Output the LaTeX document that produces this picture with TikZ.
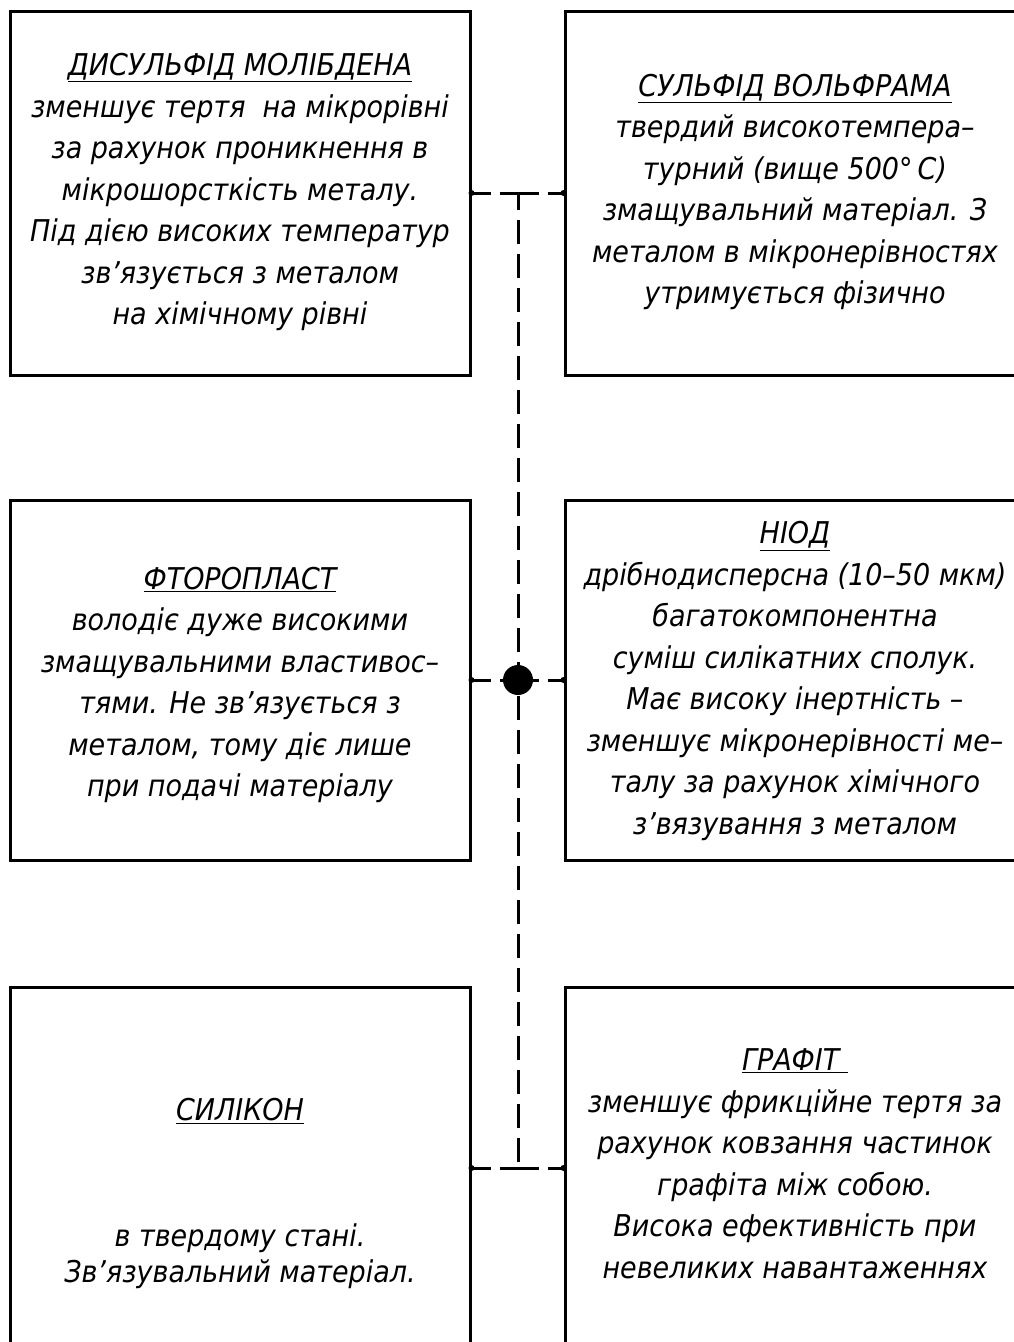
\documentclass[tikz,border=0pt]{standalone}
\usepackage{fontspec}
\setmainfont{DejaVu Sans Condensed}
\begin{document}
\begin{tikzpicture}[x=1pt,y=-1pt,
  box/.style={draw,line width=3pt,minimum width=460pt,inner sep=0pt},
  txt/.style={align=center,font=\fontsize{30}{41.5}\selectfont\itshape,inner sep=0pt},
  conn/.style={line width=3pt,dash pattern=on 19pt off 9pt on 39pt off 9pt on 19pt off 0pt},
  vconn/.style={line width=3pt,dash pattern=on 24pt off 10pt,dash phase=7pt},
  enddot/.style={circle,fill,inner sep=0pt,minimum size=6pt}
]
\useasboundingbox (0,0) rectangle (1014,1342);
\clip (0,0) rectangle (1014,1342);

% boxes
\node[box,minimum height=364pt] (tl) at (240,193) {};
\node[box,minimum height=364pt] (tr) at (795,193) {};
\node[box,minimum height=360pt] (ml) at (240,680) {};
\node[box,minimum height=360pt] (mr) at (795,680) {};
\node[box,minimum height=383pt] (bl) at (240,1178.5) {};
\node[box,minimum height=383pt] (br) at (795,1178.5) {};

% texts
\node[txt] (ttl) at (240,192) {\underline{ДИСУЛЬФІД МОЛІБДЕНА}\\
зменшує тертя\ \ на мікрорівні\\
за рахунок проникнення в\\
мікрошорсткість металу.\\
Під дією високих температур\\
зв’язується з металом\\
на хімічному рівні};

\node[txt] (ttr) at (795,192) {\underline{СУЛЬФІД ВОЛЬФРАМА}\\
твердий високотемпера–\\
турний (вище 500°\,С)\\
змащувальний матеріал. З\\
металом в мікронерівностях\\
утримується фізично};

\node[txt] (tml) at (240,685) {\underline{ФТОРОПЛАСТ}\\
володіє дуже високими\\
змащувальними властивос–\\
тями. Не зв’язується з\\
металом, тому діє лише\\
при подачі матеріалу};

\node[txt] (tmr) at (795,681) {\underline{НІОД}\\
дрібнодисперсна (10–50 мкм)\\
багатокомпонентна\\
суміш силікатних сполук.\\
Має високу інертність –\\
зменшує мікронерівності ме–\\
талу за рахунок хімічного\\
з’вязування з металом};

\node[txt] (tbl1) at (240,1111) {\underline{СИЛІКОН}};
\node[txt,font=\fontsize{30}{36}\selectfont\itshape] (tbl2) at (240,1256) {в твердому стані.\\
Зв’язувальний матеріал.};

\node[txt] (tbr) at (795,1164) {\underline{ГРАФІТ\ }\\
зменшує фрикційне тертя за\\
рахунок ковзання частинок\\
графіта між собою.\\
Висока ефективність при\\
невеликих навантаженнях};

% connectors
\coordinate (j1) at (518,193);
\coordinate (j2) at (518,680);
\coordinate (j3) at (518,1168);

\draw[vconn] (j1) -- (j3);
\draw[conn] (tl.east |- j1) -- (tr.west |- j1);
\draw[conn] (ml.east |- j2) -- (mr.west |- j2);
\draw[conn] (bl.east |- j3) -- (br.west |- j3);

\node[circle,fill,inner sep=0pt,minimum size=30pt] (dot) at (j2) {};

\node[enddot] (d1) at (tl.east |- j1) {};
\node[enddot] (d2) at (tr.west |- j1) {};
\node[enddot] (d3) at (ml.east |- j2) {};
\node[enddot] (d4) at (mr.west |- j2) {};
\node[enddot] (d5) at (bl.east |- j3) {};
\node[enddot] (d6) at (br.west |- j3) {};
\end{tikzpicture}
\end{document}
